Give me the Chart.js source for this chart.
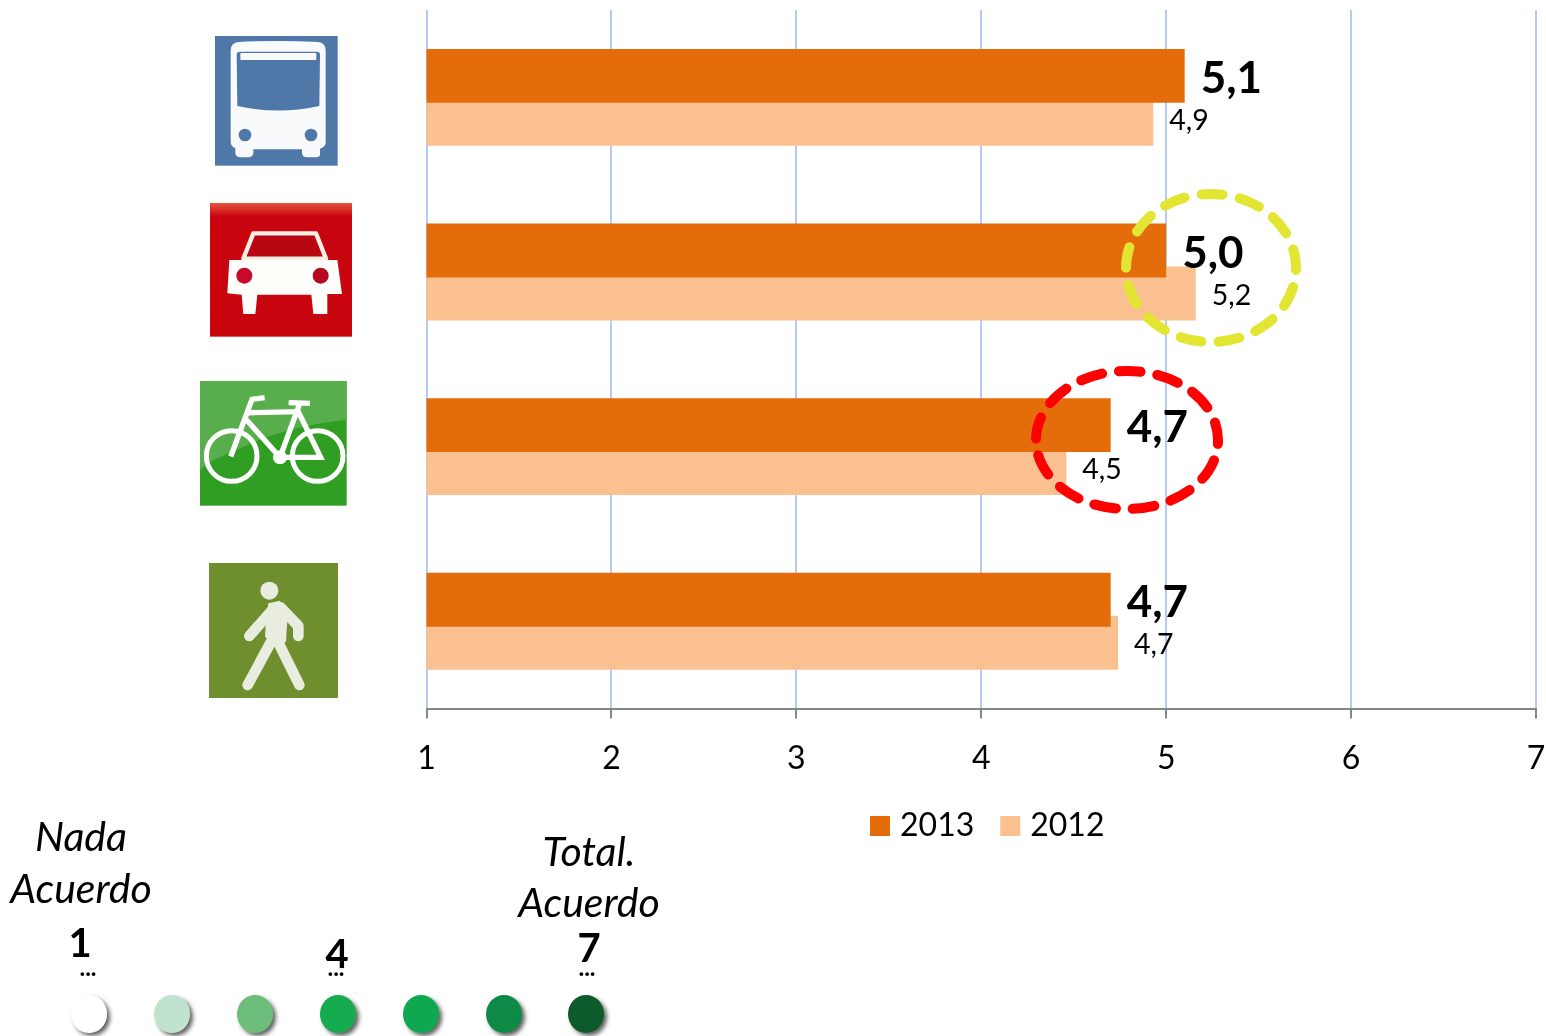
<!DOCTYPE html>
<html lang="es">
<head>
<meta charset="utf-8">
<title>Valoración por modo de transporte</title>
<script src="https://cdn.jsdelivr.net/npm/chart.js@4/dist/chart.umd.min.js"></script>
<style>
html,body{margin:0;padding:0;background:#fff;overflow:hidden}
#wrap{position:relative;width:1546px;height:1036px}
canvas{position:absolute;left:0;top:0}
svg{position:absolute;left:0;top:0;pointer-events:none}
svg text{font-family:Lato,"Open Sans",sans-serif;fill:#000;text-anchor:middle}
.it{font-style:italic;font-size:41px}
.bd{font-weight:700;font-size:40px}
.dt{font-weight:700;font-size:24px}
</style>
</head>
<body>
<div id="wrap">
<canvas id="c" width="1546" height="1036"></canvas>
<svg width="1546" height="1036" viewBox="0 0 1546 1036">
  <defs>
    <linearGradient id="carG" x1="0" y1="0" x2="0" y2="1">
      <stop offset="0" stop-color="#E4563F"/><stop offset=".1" stop-color="#C8050F"/><stop offset="1" stop-color="#C9060E"/>
    </linearGradient>
    <filter id="ds" x="-40%" y="-40%" width="190%" height="190%">
      <feDropShadow dx="3" dy="3" stdDeviation="2" flood-color="#444" flood-opacity=".85"/>
    </filter>
  </defs>
  <!-- bus -->
  <g transform="translate(190,20) scale(.33333)">
    <rect x="75" y="48" width="368" height="389" fill="#4F77A8"/>
    <path d="M145 66 Q265 60 385 66 Q405 68 407 90 L407 370 Q405 382 390 386 L390 405 Q388 412 375 412 L350 412 Q338 412 336 400 L336 388 L190 388 L190 400 Q188 412 175 412 L150 412 Q138 412 136 400 L136 384 Q122 380 122 365 L122 90 Q124 68 145 66Z" fill="#F8FAFC"/>
    <path d="M150 95 L380 95 Q390 95 390 105 L388 258 Q265 285 142 258 L140 105 Q140 95 150 95Z" fill="#4F77A8"/>
    <rect x="151" y="99" width="228" height="21" rx="3" fill="#F8FAFC"/>
    <circle cx="165" cy="345" r="19" fill="#4F77A8"/><circle cx="363" cy="345" r="19" fill="#4F77A8"/>
  </g>
  <!-- car -->
  <g transform="translate(190,20) scale(.33333)">
    <rect x="60" y="549" width="426" height="401" fill="url(#carG)"/>
    <path d="M160 716 L190 640 L378 640 L408 716Z" fill="#B80612" stroke="#FBEFE4" stroke-width="13" stroke-linejoin="round"/>
    <path d="M118 720 L442 720 L456 822 L412 822 L412 882 L370 882 L364 824 L202 824 L196 882 L160 882 L155 824 L112 820Z" fill="#FFFEFB"/>
    <circle cx="163" cy="767" r="31" fill="#fff"/><circle cx="163" cy="767" r="24" fill="#C80A2A"/>
    <circle cx="392" cy="767" r="31" fill="#fff"/><circle cx="392" cy="767" r="24" fill="#B50A20"/>
  </g>
  <!-- bicycle -->
  <g transform="translate(190,370) scale(.33333)">
    <rect x="30" y="33" width="440" height="374" fill="#2F9E22"/>
    <path d="M30 33 L470 33 L470 150 Q300 165 150 235 Q70 265 30 300Z" fill="#58AD4C"/>
    <g fill="none" stroke="#fff" stroke-width="15" stroke-linecap="round">
      <circle cx="125" cy="258" r="76"/><circle cx="383" cy="258" r="76"/>
    </g>
    <g fill="none" stroke="#fff" stroke-width="16" stroke-linecap="square">
      <path d="M125 252 L186 88 L216 84"/><path d="M170 150 L270 262 L392 262 L325 125 L180 128"/>
      <path d="M270 262 L328 104"/><path d="M304 98 L352 100"/>
    </g>
    <circle cx="270" cy="262" r="21" fill="#fff"/>
  </g>
  <!-- walker -->
  <g transform="translate(190,370) scale(.33333)">
    <rect x="57" y="579" width="387" height="405" fill="#6F8F2F"/>
    <g fill="none" stroke="#E8EDDF" stroke-width="32" stroke-linecap="round" stroke-linejoin="round">
      <path d="M178 798 L245 722"/><path d="M272 712 L325 768 L325 798"/>
      <path d="M173 945 L245 812"/><path d="M262 812 L328 945"/>
    </g>
    <path d="M235 700 L270 692 L292 750 L288 815 L262 835 L225 800 L228 750Z" fill="#E8EDDF"/>
    <circle cx="238" cy="662" r="27" fill="#E8EDDF"/>
  </g>
  <!-- highlights -->
  <ellipse cx="1211" cy="268" rx="85" ry="74" fill="none" stroke="#E2E632" stroke-width="10" stroke-linecap="round" pathLength="500" stroke-dasharray="21 17.46" stroke-dashoffset="19"/>
  <ellipse cx="1127" cy="440" rx="91" ry="69" fill="none" stroke="#FF0000" stroke-width="10" stroke-linecap="round" pathLength="507" stroke-dasharray="22 17" stroke-dashoffset="18"/>
  <!-- scale key -->
  <text class="it" x="81" y="851">Nada</text>
  <text class="it" x="81" y="903">Acuerdo</text>
  <text class="it" x="589" y="866">Total.</text>
  <text class="it" x="589" y="917">Acuerdo</text>
  <text class="bd" x="80" y="957">1</text>
  <text class="bd" x="337" y="968">4</text>
  <text class="bd" x="589" y="962">7</text>
  <text class="dt" x="88" y="976">...</text>
  <text class="dt" x="336" y="976">...</text>
  <text class="dt" x="587" y="976">...</text>
  <g filter="url(#ds)">
    <ellipse cx="89" cy="1014" rx="18" ry="19" fill="#FFFFFF"/>
    <ellipse cx="172" cy="1014" rx="18" ry="19" fill="#BFE3CF"/>
    <ellipse cx="255" cy="1014" rx="18" ry="19" fill="#6DBE7A"/>
    <ellipse cx="338" cy="1014" rx="18" ry="19" fill="#12AB50"/>
    <ellipse cx="421" cy="1014" rx="18" ry="19" fill="#0BA84F"/>
    <ellipse cx="504" cy="1014" rx="18" ry="19" fill="#0A8A45"/>
    <ellipse cx="586" cy="1014" rx="18" ry="19" fill="#0B5A2C"/>
  </g>
</svg>
</div>
<script>
const categories = ["Autobús", "Coche", "Bicicleta", "A pie"];
const seriesNames = ["2013", "2012"];
const values2013 = [5.10, 5.00, 4.70, 4.70];
const values2012 = [4.93, 5.16, 4.46, 4.74];
const xTicks = [1, 2, 3, 4, 5, 6, 7];
const colors = ["#E46C0A", "#FAC090"];

const FONT = 'Lato, "Open Sans", sans-serif';
const fmt = v => v.toFixed(1).replace('.', ',');

const valueLabels = {
  id: 'valueLabels',
  afterDatasetsDraw(chart) {
    const ctx = chart.ctx;
    ctx.save();
    ctx.fillStyle = '#000';
    ctx.textAlign = 'left';
    ctx.textBaseline = 'middle';
    chart.data.datasets.forEach((ds, di) => {
      const bold = di === 0;
      ctx.font = (bold ? '700 44px ' : '400 28.5px ') + FONT;
      chart.getDatasetMeta(di).data.forEach((bar, i) => {
        ctx.fillText(fmt(ds.data[i]), bar.x + 16, bar.y + (bold ? 3 : 2));
      });
    });
    ctx.restore();
  }
};
const legendShift = {
  id: 'legendShift',
  afterLayout(chart) {
    chart.legend.left += 9; chart.legend.right += 9;
    chart.legend.top -= 21; chart.legend.bottom -= 21;
  }
};

new Chart(document.getElementById('c'), {
  type: 'bar',
  data: {
    labels: categories,
    datasets: [
      { label: seriesNames[0], data: values2013, backgroundColor: colors[0] },
      { label: seriesNames[1], data: values2012, backgroundColor: colors[1] }
    ]
  },
  options: {
    indexAxis: 'y',
    responsive: false,
    animation: false,
    categoryPercentage: 0.4914,
    barPercentage: 1.256,
    layout: { padding: { left: 426.5, right: 10, top: 10, bottom: 163 } },
    plugins: {
      tooltip: { enabled: false },
      legend: {
        position: 'bottom',
        labels: {
          font: { family: FONT, size: 32 },
          color: '#000',
          boxWidth: 8,
          boxHeight: 8,
          padding: 32,
          generateLabels: chart => chart.data.datasets.map((d, i) => ({
            text: d.label, fillStyle: d.backgroundColor, strokeStyle: d.backgroundColor,
            lineWidth: 12, datasetIndex: i, hidden: false, fontColor: '#000'
          }))
        }
      }
    },
    scales: {
      y: { display: false },
      x: {
        type: 'linear', min: xTicks[0], max: xTicks[xTicks.length - 1],
        afterFit(scale) { scale.paddingLeft = 0; scale.paddingRight = 0; },
        ticks: { stepSize: 1, color: '#000', font: { family: FONT, size: 32 }, padding: 21, maxRotation: 0, autoSkip: false },
        grid: { color: '#B4CBEE', lineWidth: 2, tickColor: '#868686', tickLength: 10, tickWidth: 2 },
        border: { color: '#868686', width: 2 }
      }
    }
  },
  plugins: [valueLabels, legendShift]
});
</script>
</body>
</html>
